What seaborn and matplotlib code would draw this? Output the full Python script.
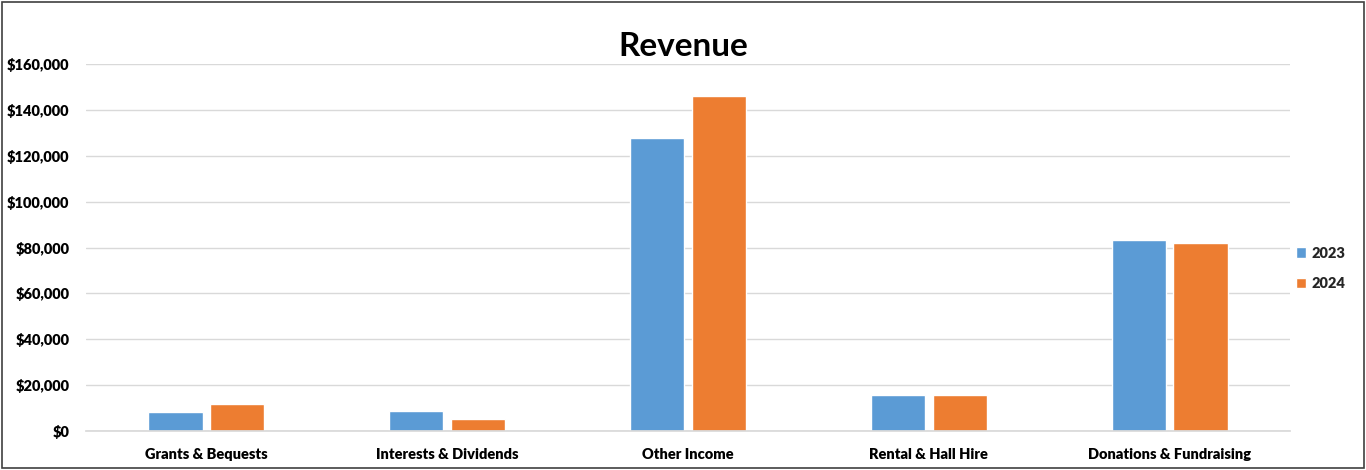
import pandas as pd
import matplotlib.pyplot as plt
import seaborn as sns
from matplotlib.patches import Rectangle
from matplotlib.ticker import FuncFormatter

# Revenue data
categories = ["Grants & Bequests", "Interests & Dividends", "Other Income",
              "Rental & Hall Hire", "Donations & Fundraising"]
rev_2023 = [8400, 8700, 127700, 15600, 83100]
rev_2024 = [11900, 5200, 146100, 15600, 81800]
years = ["2023", "2024"]

df = pd.DataFrame({
    "category": categories * 2,
    "year": [years[0]] * 5 + [years[1]] * 5,
    "revenue": rev_2023 + rev_2024,
})

sns.set_theme(style="white")
plt.rcParams['font.family'] = ['Lato', 'DejaVu Sans']

fig = plt.figure(figsize=(13.66, 4.70), dpi=100)
ax = fig.add_axes([86 / 1366, 39 / 470, 1204 / 1366, 367 / 470])

sns.barplot(data=df, x="category", y="revenue", hue="year",
            palette=["#5B9BD5", "#ED7D31"], saturation=1,
            width=0.5125, gap=0.12, ax=ax, legend=True)

ax.set_ylim(0, 160000)
ax.set_xlim(-0.5, 4.5)
ax.set_yticks(range(0, 160001, 20000))
ax.yaxis.set_major_formatter(FuncFormatter(lambda v, p: f"${v:,.0f}"))
ax.yaxis.grid(True, color="#D9D9D9", linewidth=1)
ax.set_axisbelow(True)
for s in ["top", "right", "left"]:
    ax.spines[s].set_visible(False)
ax.spines["bottom"].set_color("#D9D9D9")
ax.tick_params(axis="both", length=0, labelsize=10.5, pad=12, labelcolor="black")
ax.set_xlabel("")
ax.set_ylabel("")

leg = ax.legend(loc="center left", bbox_to_anchor=(0.994, 0.443), frameon=False,
                handlelength=0.7, handleheight=0.7, handletextpad=0.4,
                labelspacing=1.2, fontsize=10.5)
for t in leg.get_texts():
    t.set_fontweight("heavy")

fig.text(0.5, 1 - 46 / 470, "Revenue", ha="center", va="center",
         fontsize=24, fontweight="bold", color="black")

# chart border
fig.patches.append(Rectangle((2 / 1366, 2 / 470), 1362 / 1366, 466 / 470,
                             transform=fig.transFigure, fill=False,
                             edgecolor="#404040", linewidth=1.2))

fig.canvas.draw()
for lab in ax.get_xticklabels() + ax.get_yticklabels():
    lab.set_fontweight("heavy")

fig.savefig("out.png", dpi=100)
